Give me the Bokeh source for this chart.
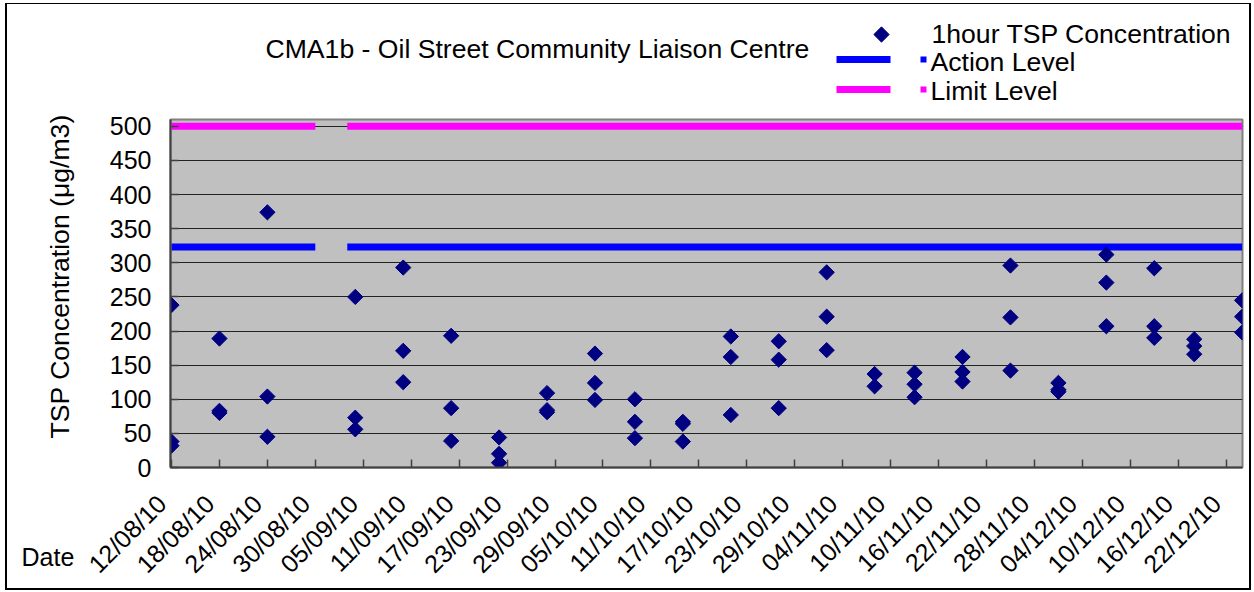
import math
import numpy as np
import pandas as pd
from bokeh.plotting import figure
from bokeh.layouts import column, row
from bokeh.models import (FixedTicker, Range1d, ColumnDataSource, DatetimeTickFormatter,
                          InlineStyleSheet)
from bokeh.core.properties import value
from bokeh.embed import file_html
from bokeh.resources import INLINE

# ---------------- data ----------------
title_text = "CMA1b - Oil Street Community Liaison Centre"
y_title = "TSP Concentration (\u03bcg/m3)"
x_title = "Date"

tick_labels = ["12/08/10", "18/08/10", "24/08/10", "30/08/10", "05/09/10", "11/09/10",
               "17/09/10", "23/09/10", "29/09/10", "05/10/10", "11/10/10", "17/10/10",
               "23/10/10", "29/10/10", "04/11/10", "10/11/10", "16/11/10", "22/11/10",
               "28/11/10", "04/12/10", "10/12/10", "16/12/10", "22/12/10"]
y_ticks = [0, 50, 100, 150, 200, 250, 300, 350, 400, 450, 500]

tsp_dates = (["2010-08-12"] * 3 + ["2010-08-18"] * 3 + ["2010-08-24"] * 3 +
             ["2010-09-04"] * 3 + ["2010-09-10"] * 3 + ["2010-09-16"] * 3 +
             ["2010-09-22"] * 3 + ["2010-09-28"] * 3 + ["2010-10-04"] * 3 +
             ["2010-10-09"] * 3 + ["2010-10-15"] * 3 + ["2010-10-21"] * 3 +
             ["2010-10-27"] * 3 + ["2010-11-02"] * 3 + ["2010-11-08"] * 2 +
             ["2010-11-13"] * 3 + ["2010-11-19"] * 3 + ["2010-11-25"] * 3 +
             ["2010-12-01"] * 3 + ["2010-12-07"] * 3 + ["2010-12-13"] * 3 +
             ["2010-12-18"] * 3 + ["2010-12-24"] * 3)
tsp_values = [238, 38, 32,
              189, 83, 80,
              374, 104, 45,
              250, 73, 56,
              293, 171, 125,
              193, 87, 39,
              44, 20, 7,
              109, 84, 81,
              167, 124, 99,
              100, 67, 43,
              67, 64, 38,
              192, 162, 77,
              185, 158, 87,
              286, 221, 172,
              137, 119,
              139, 122, 103,
              162, 140, 126,
              296, 220, 142,
              124, 114, 111,
              312, 271, 207,
              292, 207, 190,
              188, 178, 166,
              245, 221, 198]

level_dates = ["2010-08-12", "2010-08-30", "2010-09-01", "2010-09-03", "2010-12-24"]
action_level = [323, 323, np.nan, 323, 323]
limit_level = [500, 500, np.nan, 500, 500]

series_names = ["1hour TSP Concentration", "Action Level", "Limit Level"]
series_colors = ["#000080", "#0000FF", "#FF00FF"]

# ---------------- layout geometry (page px) ----------------
FONT = "Liberation Sans"
W, H = 1254, 592
TOP_H = 108          # strip holding title + legend
LEFT_W = 80          # strip holding the y title and "Date"
FL, FR, FT, FB = 170, 1242, 119, 467   # plot frame
NBSP = "\u00a0"
MID = 0.3465         # baseline -> middle offset (em) for Liberation Sans


def common(fig):
    fig.toolbar_location = None
    fig.outline_line_color = None
    fig.background_fill_color = "white"
    fig.border_fill_color = "white"
    fig.grid.visible = False


# ---------------- main chart ----------------
x_start = pd.Timestamp("2010-08-12") - pd.Timedelta(hours=3)
x_end = pd.Timestamp("2010-12-24") + pd.Timedelta(hours=1)
y_end = 510

MAIN_W = W - LEFT_W
MAIN_H = H - TOP_H
p = figure(width=MAIN_W, height=MAIN_H, x_axis_type="datetime",
           x_range=Range1d(x_start, x_end), y_range=Range1d(0, y_end),
           output_backend="svg", toolbar_location=None,
           min_border_left=FL - LEFT_W, min_border_right=W - FR,
           min_border_top=FT - TOP_H, min_border_bottom=H - FB)

p.background_fill_color = "#C0C0C0"
p.border_fill_color = "white"
p.outline_line_color = "#808080"
p.outline_line_width = 2

p.xgrid.visible = False
p.ygrid.grid_line_color = "#222222"
p.ygrid.grid_line_width = 1
p.ygrid.ticker = FixedTicker(ticks=y_ticks)

tick_dt = pd.to_datetime(tick_labels, format="%d/%m/%y")
tick_ms = [t.value / 1e6 for t in tick_dt]
p.xaxis.ticker = FixedTicker(ticks=tick_ms)
fmt = "%d/%m/%y" + NBSP * 2
p.xaxis.formatter = DatetimeTickFormatter(days=fmt, months=fmt, years=fmt, hours=fmt,
                                          hourmin=fmt, minutes=fmt, minsec=fmt,
                                          seconds=fmt, milliseconds=fmt, microseconds=fmt)
p.xaxis.major_label_orientation = math.pi / 4
p.yaxis.ticker = FixedTicker(ticks=y_ticks)

for ax in (p.xaxis, p.yaxis):
    ax.axis_line_color = "#404040"
    ax.axis_line_width = 2
    ax.major_tick_in = 8
    ax.major_tick_out = 0
    ax.major_tick_line_color = "#404040"
    ax.major_tick_line_width = 1.5
    ax.minor_tick_line_color = None
    ax.major_label_text_font = FONT
    ax.major_label_text_font_size = "25px"
    ax.major_label_text_color = "black"
p.yaxis.major_label_standoff = 19
p.xaxis.major_label_standoff = 22

lv_src = ColumnDataSource(dict(date=pd.to_datetime(level_dates),
                               action=action_level, limit=limit_level))
p.line(x="date", y="action", source=lv_src, line_color=series_colors[1], line_width=7)
p.line(x="date", y="limit", source=lv_src, line_color=series_colors[2], line_width=7)

src = ColumnDataSource(dict(date=pd.to_datetime(tsp_dates), tsp=tsp_values))
p.scatter(x="date", y="tsp", source=src, marker="square", angle=math.pi / 4,
          size=10.8, fill_color=series_colors[0], line_color=series_colors[0])

# ---------------- top strip: title + legend ----------------
FS = 26.6
pt = figure(width=W, height=TOP_H, x_range=Range1d(0, W), y_range=Range1d(TOP_H, 0),
            output_backend="svg", x_axis_location=None, y_axis_location=None,
            min_border=0)
common(pt)
pt.text(x=[265], y=[57.7 - MID * FS], text=[title_text], text_font=value(FONT),
        text_font_size=f"{FS}px", text_color="black", text_align="left",
        text_baseline="middle")
pt.scatter(x=[881], y=[34], marker="square", angle=math.pi / 4, size=10.8,
           fill_color=series_colors[0], line_color=series_colors[0])
pt.segment(x0=[836, 836], y0=[59, 89], x1=[890, 890], y1=[59, 89],
           line_color=series_colors[1:], line_width=7)
pt.rect(x=[923, 923], y=[59, 89], width=6, height=6, fill_color=series_colors[1:],
        line_color=None)
pt.text(x=[931, 930, 930], y=[b - MID * FS for b in (42.3, 71, 99.3)], text=series_names,
        text_font=value(FONT), text_font_size=f"{FS}px", text_color="black",
        text_align="left", text_baseline="middle")

# ---------------- left strip: y title + "Date" ----------------
pl = figure(width=LEFT_W, height=MAIN_H, x_range=Range1d(0, LEFT_W),
            y_range=Range1d(H, TOP_H), output_backend="svg",
            x_axis_location=None, y_axis_location=None, min_border=0)
common(pl)
pl.text(x=[69 - MID * FS], y=[438], text=[y_title], angle=math.pi / 2,
        text_font=value(FONT), text_font_size=f"{FS}px", text_color="black",
        text_align="left", text_baseline="middle")
pl.text(x=[21], y=[565 - MID * 25], text=[x_title], text_font=value(FONT),
        text_font_size="25px", text_color="black", text_align="left",
        text_baseline="middle")

layout = column(pt, row(column(pl, spacing=0), p, spacing=0), spacing=0)
layout.stylesheets = [InlineStyleSheet(css="""
:host { position: relative; }
:host::after {
  content: ""; position: absolute; left: 5px; top: 3px; right: 3px; bottom: 2px;
  border: 2px solid black; border-top-width: 1.5px; pointer-events: none; z-index: 100;
}
""")]

open("out.html", "w").write(file_html(layout, INLINE))
